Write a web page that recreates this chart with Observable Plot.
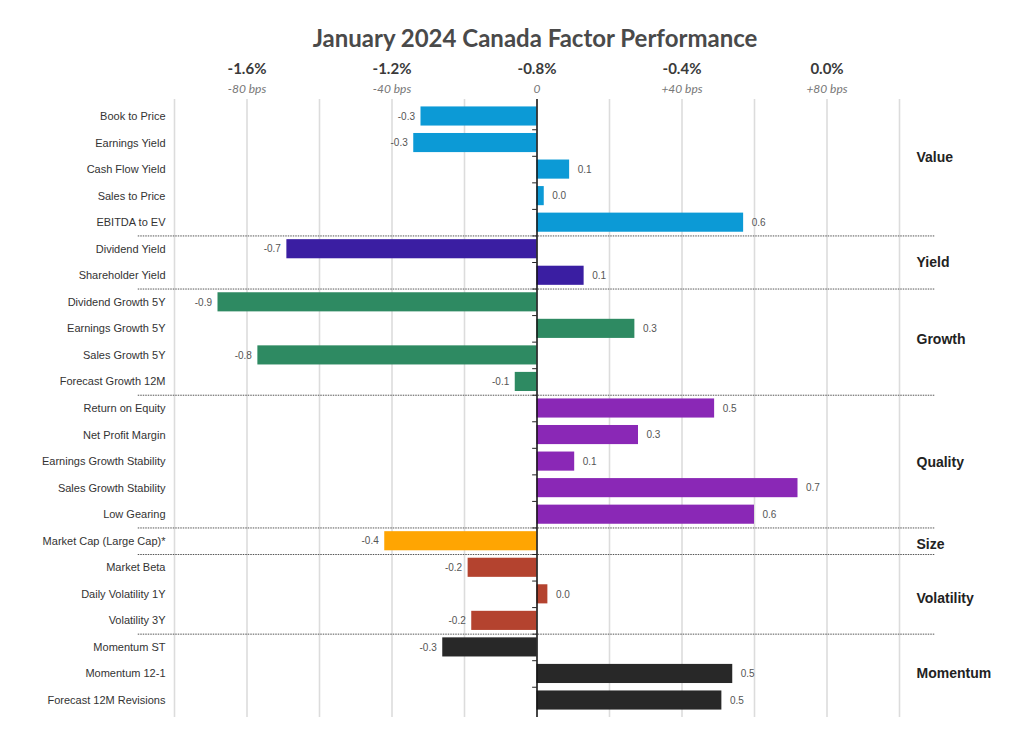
<!DOCTYPE html>
<html>
<head>
<meta charset="utf-8">
<script src="https://cdn.jsdelivr.net/npm/d3@7"></script>
<script src="https://cdn.jsdelivr.net/npm/@observablehq/plot@0.6"></script>
<style>
  body { margin: 0; background: #fff; }
  #title { width: 1024px; height: 50px; box-sizing: border-box; padding-top: 26px; padding-left: 46px;
    text-align: center; font: 700 24px Lato, sans-serif; line-height: 24px; color: #4a4a4a; }
  #chart svg { display: block; }
</style>
</head>
<body>
<div id="title">January 2024 Canada Factor Performance</div>
<div id="chart"></div>
<script>
const categories = [
  "Book to Price","Earnings Yield","Cash Flow Yield","Sales to Price","EBITDA to EV",
  "Dividend Yield","Shareholder Yield",
  "Dividend Growth 5Y","Earnings Growth 5Y","Sales Growth 5Y","Forecast Growth 12M",
  "Return on Equity","Net Profit Margin","Earnings Growth Stability","Sales Growth Stability","Low Gearing",
  "Market Cap (Large Cap)*",
  "Market Beta","Daily Volatility 1Y","Volatility 3Y",
  "Momentum ST","Momentum 12-1","Forecast 12M Revisions"
];
const groups = [
  "Value","Value","Value","Value","Value",
  "Yield","Yield",
  "Growth","Growth","Growth","Growth",
  "Quality","Quality","Quality","Quality","Quality",
  "Size",
  "Volatility","Volatility","Volatility",
  "Momentum","Momentum","Momentum"
];
// relative performance vs. benchmark (-0.8% = 0), in %
const values = [
  -0.32, -0.34, 0.09, 0.02, 0.57,
  -0.69, 0.13,
  -0.88, 0.27, -0.77, -0.06,
  0.49, 0.28, 0.104, 0.72, 0.60,
  -0.42,
  -0.19, 0.03, -0.18,
  -0.26, 0.54, 0.51
];
const groupNames = ["Value","Yield","Growth","Quality","Size","Volatility","Momentum"];
const groupColors = ["#0C9AD6","#3A1EA2","#2E8A62","#8A28B6","#FFA502","#B4432F","#282828"];
const groupLabelRow = ["Earnings Yield","Dividend Yield","Earnings Growth 5Y","Earnings Growth Stability","Market Cap (Large Cap)*","Daily Volatility 1Y","Momentum 12-1"];
const groupLabelShift = [14, 13, 11, 1, 3, 4, 0];
const separatorBefore = ["Dividend Yield","Dividend Growth 5Y","Return on Equity","Market Cap (Large Cap)*","Market Beta","Momentum ST"];
const tickValues = [-0.8, -0.4, 0, 0.4, 0.8];
const pctLabels = ["-1.6%","-1.2%","-0.8%","-0.4%","0.0%"];
const bpsLabels = ["-80 bps","-40 bps","0","+40 bps","+80 bps"];
const gridValues = [-1, -0.8, -0.6, -0.4, -0.2, 0, 0.2, 0.4, 0.6, 0.8, 1];

const data = categories.map((c, i) => ({category: c, group: groups[i], value: values[i]}));
const labels = groupNames.map((g, i) => ({group: g, row: groupLabelRow[i], shift: groupLabelShift[i]}));
const fmt = v => d3.format(".1f")(v).replace("\u2212", "-");

const height = 691, marginTop = 49, marginBottom = 24;
const padding = 0.28;
const step = (height - marginTop - marginBottom) / (categories.length + padding);

const chart = Plot.plot({
  width: 1024,
  height,
  marginLeft: 174,
  marginRight: 125,
  marginTop,
  marginBottom,
  style: {fontFamily: "Liberation Sans, Arial, sans-serif", background: "#fff"},
  x: {domain: [-1, 1], axis: null},
  y: {domain: categories, padding, round: false, axis: null},
  color: {domain: groupNames, range: groupColors},
  marks: [
    Plot.gridX(gridValues, {stroke: "#dcdcdc", strokeOpacity: 1, strokeWidth: 1.6}),
    Plot.ruleY(separatorBefore, {y: d => d, x1: -1.1, x2: 1.1, dy: -step / 2, stroke: "#555", strokeWidth: 1, strokeDasharray: "1.5,1"}),
    Plot.barX(data, {y: "category", x1: 0, x2: "value", fill: "group"}),
    Plot.ruleY(categories.slice(1), {y: d => d, x1: -0.012, x2: 0, dy: -step / 2, stroke: "#222", strokeWidth: 1}),
    Plot.ruleX([0], {stroke: "#111", strokeWidth: 1.5}),
    Plot.text(data.filter(d => d.value < 0), {y: "category", x: "value", text: d => fmt(d.value), textAnchor: "end", dx: -6, fontSize: 10, fill: "#555"}),
    Plot.text(data.filter(d => d.value >= 0), {y: "category", x: "value", text: d => fmt(d.value), textAnchor: "start", dx: 8, fontSize: 10, fill: "#555"}),
    Plot.axisY({tickSize: 0, tickPadding: 9, fontSize: 11, color: "#333"}),
    Plot.text(tickValues, {x: d => d, text: (d, i) => pctLabels[i], frameAnchor: "top", dy: -36, fontSize: 15, fontWeight: 700, fontFamily: "Lato, sans-serif", fill: "#3a3a3a"}),
    Plot.text(tickValues, {x: d => d, text: (d, i) => bpsLabels[i], frameAnchor: "top", dy: -15, fontSize: 12, fontStyle: "italic", fontFamily: "Lato, sans-serif", fill: "#777"}),
    ...labels.map(l => Plot.text([l], {y: "row", x: 1, text: "group", textAnchor: "start", dx: 17, dy: l.shift, fontSize: 14, fontWeight: 700, fill: "#222"}))
  ]
});
document.getElementById("chart").appendChild(chart);
</script>
</body>
</html>
